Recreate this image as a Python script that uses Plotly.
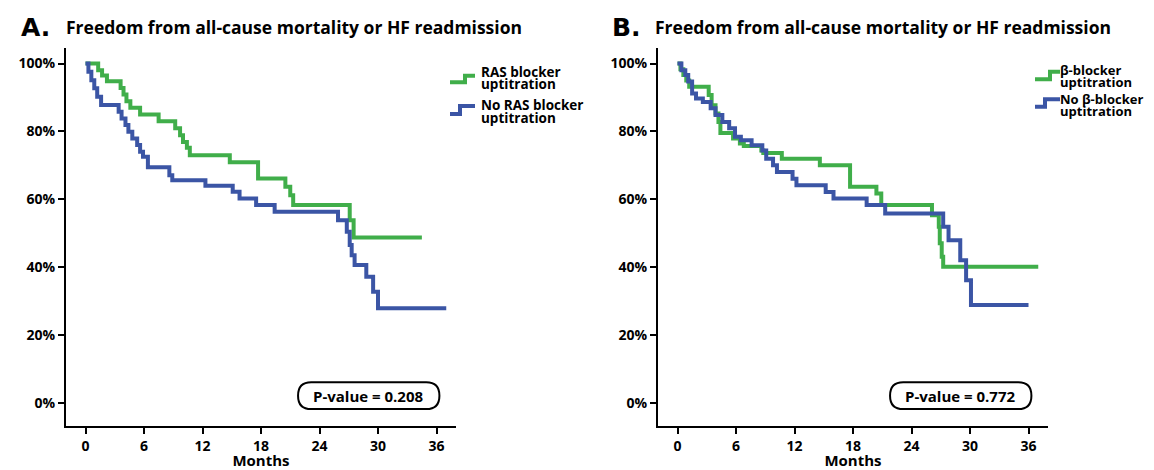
import plotly.graph_objects as go

# ---------------- data ----------------
months_a_ras = [0, 1.3, 1.7, 2.2, 3.6, 3.9, 4.2, 4.6, 5.6, 7.5, 9.2, 9.7, 10.0, 10.4, 10.7,
                14.8, 17.7, 20.5, 21.0, 21.3, 27.1, 27.5, 34.5]
surv_a_ras = [100, 98, 96.5, 94.8, 92.8, 90.9, 88.9, 87, 85, 83, 80.9, 78.9, 76.9, 75.2, 73,
              70.9, 66.1, 63.7, 61.2, 58.3, 53.8, 48.7, 48.7]

months_a_noras = [0, 0.3, 0.6, 0.9, 1.2, 1.6, 3.4, 3.7, 4.1, 4.4, 4.8, 5.3, 5.6, 5.9, 6.4,
                  8.6, 8.9, 12.3, 15.1, 15.8, 17.5, 19.4, 25.9, 26.8, 27.1, 27.3, 27.6,
                  28.8, 29.5, 30.0, 37.0]
surv_a_noras = [100, 97.6, 95.1, 92.7, 90.2, 87.8, 85.8, 83.8, 81.9, 79.9, 77.9, 76.0, 74.0,
                72.5, 69.4, 67.1, 65.6, 64.0, 62.2, 60.2, 58.3, 56.3, 53.8, 50.4, 46.5, 43.5,
                40.6, 37.1, 32.7, 27.8, 27.8]

months_b_bb = [0, 0.3, 0.6, 0.9, 1.2, 3.2, 3.5, 3.9, 4.2, 4.4, 5.7, 6.4, 6.8, 8.6, 8.8, 10.7,
               14.6, 17.7, 20.4, 20.9, 26.1, 26.8, 26.9, 27.1, 27.25, 37.0]
surv_b_bb = [100, 98.3, 96.6, 95, 93.2, 90.7, 87.7, 85.3, 82.8, 79.5, 77.9, 76.4, 75.7, 74.4,
             73.6, 71.9, 70, 63.7, 61.7, 58.3, 55.3, 51.9, 47, 43, 40.1, 40.1]

months_b_nobb = [0, 0.4, 0.8, 1.1, 1.5, 1.9, 2.6, 3.4, 3.9, 4.6, 5.3, 5.9, 6.5, 7.6, 8.7, 9.1,
                 9.8, 10.2, 11.8, 12.2, 15.2, 16.0, 19.4, 21.3, 27.25, 27.8, 29.0, 29.6,
                 30.1, 36.0]
surv_b_nobb = [100, 98, 96.6, 94.7, 91.2, 89.7, 88.7, 86.8, 84.8, 82.8, 80.9, 78.4, 77.4,
               75.9, 74.4, 71.9, 70, 68, 66, 64.1, 62.1, 60.2, 58.3, 55.8, 51.9, 47.9, 42,
               36.1, 28.8, 28.8]

x_ticks = [0, 6, 12, 18, 24, 30, 36]
y_ticks = [0, 20, 40, 60, 80, 100]
y_tick_labels = ["0%", "20%", "40%", "60%", "80%", "100%"]

panel_letters = ["A.", "B."]
panel_title = "Freedom from all-cause mortality or HF readmission"
p_values = ["P-value = 0.208", "P-value = 0.772"]
x_title = "Months"
legend_a = [["RAS blocker", "uptitration"], ["No RAS blocker", "uptitration"]]
legend_b = [["β-blocker", "uptitration"], ["No β-blocker", "uptitration"]]

GREEN = "#40AE4A"
BLUE = "#3B55A5"
OFF = 8                      # default page body margin of the html page
W, H = 1154 - OFF, 470 - OFF
FONT = "Open Sans"

def fx(x):                   # page pixel -> paper fraction
    return (x - OFF) / W

def fy(y):
    return 1 - (y - OFF) / H

fig = go.Figure()

def add_curve(x, y, color, name, xa, ya):
    fig.add_trace(go.Scatter(
        x=x, y=y, mode="lines", name=name, showlegend=False,
        line=dict(shape="hv", color=color, width=4),
        xaxis=xa, yaxis=ya, hoverinfo="skip"))

add_curve(months_a_ras, surv_a_ras, GREEN, " ".join(legend_a[0]), "x", "y")
add_curve(months_a_noras, surv_a_noras, BLUE, " ".join(legend_a[1]), "x", "y")
add_curve(months_b_bb, surv_b_bb, GREEN, " ".join(legend_b[0]), "x2", "y2")
add_curve(months_b_nobb, surv_b_nobb, BLUE, " ".join(legend_b[1]), "x2", "y2")

ydom = [fy(426), fy(48)]
xdomA = [fx(66), fx(456)]
xdomB = [fx(658), fx(1048)]

tickfont = dict(family=FONT, size=14, color="black", weight="bold")

def xaxis(dom, anchor):
    return dict(domain=dom, anchor=anchor, range=[-2, 38], tickvals=x_ticks,
                showline=True, linecolor="black", linewidth=2, ticks="outside",
                ticklen=6, tickwidth=2, tickcolor="black", showgrid=False, zeroline=False,
                tickfont=tickfont, automargin=False,
                title=dict(text=x_title, font=dict(family=FONT, size=15, color="black", weight="bold"),
                           standoff=0))

def yaxis(anchor):
    return dict(domain=ydom, anchor=anchor, range=[-6.9, 104.6], tickvals=y_ticks,
                ticktext=y_tick_labels, showline=True, linecolor="black", linewidth=2,
                ticks="outside", ticklen=6, tickwidth=2, tickcolor="black", showgrid=False,
                zeroline=False, tickfont=tickfont, automargin=False)

fig.update_layout(
    width=W, height=H, margin=dict(l=0, r=0, t=0, b=0, autoexpand=False),
    paper_bgcolor="white", plot_bgcolor="white", showlegend=False,
    xaxis=xaxis(xdomA, "y"), yaxis=yaxis("x"),
    xaxis2=xaxis(xdomB, "y2"), yaxis2=yaxis("x2"),
)

def text_at(x, y, text, font, xanchor="left"):
    fig.add_annotation(text=text, xref="paper", yref="paper", x=fx(x), y=fy(y),
                       xanchor=xanchor, yanchor="middle", showarrow=False,
                       borderpad=0, borderwidth=0, font=font)

# panel letters and titles
for i, (lx, tx) in enumerate([(21, 66), (612, 655)]):
    text_at(lx, 28, panel_letters[i], dict(family="DejaVu Sans", size=25, color="black", weight="bold"))
    text_at(tx, 27, panel_title, dict(family=FONT, size=17.5, color="black", weight="bold"))

# custom legends with step icons
legfont = dict(family=FONT, size=13.5, color="black", weight="bold")
legfont_b = dict(family=FONT, size=13, color="black", weight="bold")

def step_icon(x0, xm, x1, ylo, yhi, color):
    path = (f"M {fx(x0)},{fy(ylo)} L {fx(xm)},{fy(ylo)} "
            f"L {fx(xm)},{fy(yhi)} L {fx(x1)},{fy(yhi)}")
    fig.add_shape(type="path", path=path, xref="paper", yref="paper",
                  line=dict(color=color, width=4))

# panel A legend
step_icon(450, 465, 475, 82.3, 75.7, GREEN)
step_icon(450, 460, 475, 114, 106, BLUE)
text_at(481, 71.5, legend_a[0][0], legfont); text_at(481, 84, legend_a[0][1], legfont)
text_at(481, 105, legend_a[1][0], legfont); text_at(481, 118, legend_a[1][1], legfont)
# panel B legend
step_icon(1035, 1050, 1060, 79.3, 71.7, GREEN)
step_icon(1035, 1045, 1060, 106.7, 99.3, BLUE)
text_at(1060, 70, legend_b[0][0], legfont_b); text_at(1060, 82.5, legend_b[0][1], legfont_b)
text_at(1060, 98.5, legend_b[1][0], legfont_b); text_at(1060, 111, legend_b[1][1], legfont_b)

# P-value rounded boxes
def stadium(x0, x1, y0, y1, rx):
    ym = (y0 + y1) / 2
    return (f"M {x0 + rx},{y1} L {x1 - rx},{y1} Q {x1},{y1} {x1},{ym} "
            f"Q {x1},{y0} {x1 - rx},{y0} L {x0 + rx},{y0} Q {x0},{y0} {x0},{ym} "
            f"Q {x0},{y1} {x0 + rx},{y1} Z")

for i, (xr, yr) in enumerate([("x", "y"), ("x2", "y2")]):
    x0, x1, y0, y1 = 21.8, 36.3, -1.9, 6.0
    fig.add_shape(type="path", path=stadium(x0, x1, y0, y1, 1.35), xref=xr, yref=yr,
                  line=dict(color="black", width=2), fillcolor="white")
    fig.add_annotation(text=p_values[i], xref=xr, yref=yr, x=(x0 + x1) / 2, y=(y0 + y1) / 2,
                       showarrow=False, xanchor="center", yanchor="middle", borderpad=0,
                       font=dict(family=FONT, size=15, color="black", weight="bold"))

fig.write_html("out.html")
